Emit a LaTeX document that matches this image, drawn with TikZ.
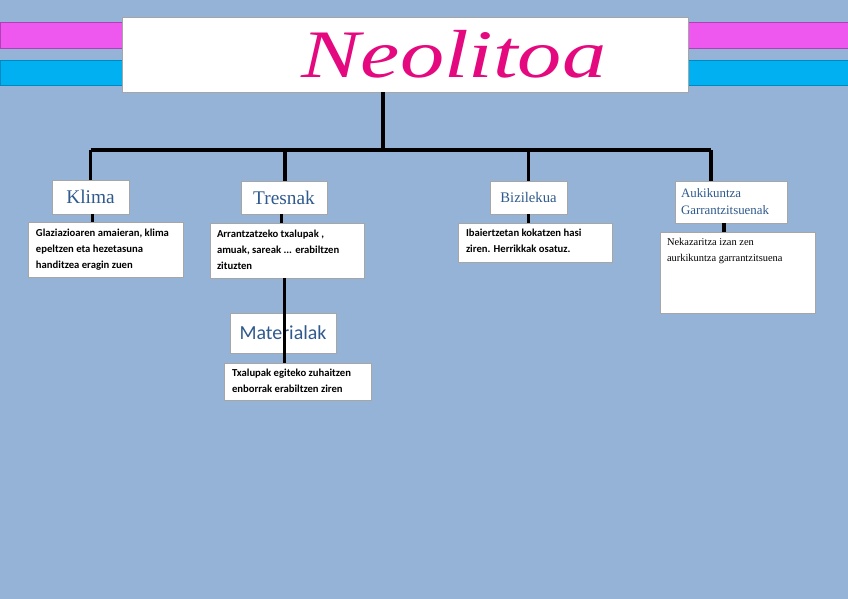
\documentclass[tikz,border=0pt]{standalone}
\usepackage{fontspec}
\setmainfont{Liberation Serif}
\setsansfont{Carlito}
\usepackage{xcolor}
\usetikzlibrary{positioning,calc}
\definecolor{bgblue}{HTML}{95B3D7}
\definecolor{barpink}{HTML}{EE58EE}
\definecolor{barpinkd}{HTML}{B040B8}
\definecolor{barcyan}{HTML}{00B0F0}
\definecolor{barcyand}{HTML}{0088C0}
\definecolor{titlepink}{HTML}{E4097F}
\definecolor{hdblue}{HTML}{2F5A8E}
\definecolor{boxgray}{HTML}{A6A6A6}
\tikzset{
  hdr/.style={draw=boxgray,fill=white,align=center,text=hdblue,inner sep=2pt},
  desc/.style={draw=boxgray,fill=white,inner sep=0pt},
  dtxt/.style={anchor=north west,inner sep=0pt,align=left,font=\sffamily\bfseries\fontsize{9.1}{13.6}\selectfont},
  conn/.style={line width=3pt,black},
}

\begin{document}
\begin{tikzpicture}[x=0.03cm,y=-0.03cm]
\fill[bgblue] (0,0) rectangle (848,599);
\useasboundingbox (0,0) rectangle (848,599);
% side bars
\draw[fill=barpink,draw=barpinkd] (0,22) rectangle (122,48);
\draw[fill=barpink,draw=barpinkd] (688,22) rectangle (848,48);
\draw[fill=barcyan,draw=barcyand] (0,60) rectangle (122,85);
\draw[fill=barcyan,draw=barcyand] (688,60) rectangle (848,85);
% title
\node[draw=boxgray,fill=white,minimum width=16.98cm,minimum height=2.25cm] (title) at (405,54.5) {};
\node[text=titlepink,font=\itshape\fontsize{58}{58}\selectfont,inner sep=0pt] (ttl) at (454,54) {\scalebox{1.3}[1]{Neolitoa}};
% headers
\node[hdr,minimum width=2.31cm,minimum height=1.02cm,font=\fontsize{16.5}{18}\selectfont] (klima) at (90.5,197) {Klima};
\node[hdr,minimum width=2.58cm,minimum height=0.99cm,font=\fontsize{16.5}{18}\selectfont] (tresnak) at (284,197.5) {Tresnak};
\node[hdr,minimum width=2.31cm,minimum height=0.99cm,font=\fontsize{12.5}{14}\selectfont] (bizi) at (528.5,197.5) {Bizilekua};
\node[hdr,minimum width=3.36cm,minimum height=1.26cm,text width=3.0cm,align=left,font=\fontsize{11}{14.5}\selectfont] (aukik) at (731,202) {Aukikuntza\\Garrantzitsuenak};
% descriptions
\node[desc,minimum width=4.65cm,minimum height=1.65cm] (klimaD) at (105.5,249.5) {};
\node[dtxt] (klimaT) at ($(klimaD.north west)+(8,7)$) {Glaziazioaren amaieran, klima\\epeltzen eta hezetasuna\\handitzea eragin zuen};
\node[desc,minimum width=4.62cm,minimum height=1.65cm] (tresnakD) at (287,250.5) {};
\node[dtxt] (tresnakT) at ($(tresnakD.north west)+(7,7)$) {Arrantzatzeko txalupak ,\\amuak, sareak ... erabiltzen\\zituzten};
\node[desc,minimum width=4.62cm,minimum height=1.17cm] (biziD) at (535,242.5) {};
\node[dtxt] (biziT) at ($(biziD.north west)+(8,6)$) {Ibaiertzetan kokatzen hasi\\ziren. Herrikkak osatuz.};
\node[desc,minimum width=4.65cm,minimum height=2.43cm] (aukikD) at (737.5,272.5) {};
\node[dtxt,font=\fontsize{8.9}{14}\selectfont] (aukikT) at ($(aukikD.north west)+(7,6)$) {Nekazaritza izan zen\\aurkikuntza garrantzitsuena};
% materialak
\node[hdr,minimum width=3.18cm,minimum height=1.2cm,font=\sffamily\fontsize{17}{19}\selectfont] (mater) at (283,333) {Materialak};
\node[desc,minimum width=4.41cm,minimum height=1.11cm] (materD) at (297.5,381.5) {};
\node[dtxt] (materT) at ($(materD.north west)+(8,6)$) {Txalupak egiteko zuhaitzen\\enborrak erabiltzen ziren};
% connectors
\coordinate (bus) at (383,150);
\draw[conn] (title.south -| bus) -- (bus);
\draw[conn] (klima.north |- bus) -- ([xshift=-17]aukik.north |- bus);
\draw[conn] (klima.north |- bus) -- (klima.north);
\draw[conn] ([xshift=1]tresnak.north |- bus) -- ([xshift=1]tresnak.north);
\draw[conn] (bizi.north |- bus) -- (bizi.north);
\draw[conn] ([xshift=-17]aukik.north |- bus) -- ([xshift=-17]aukik.north);
\draw[conn] ([xshift=1.5]klima.south) -- ([xshift=1.5]klima.south |- klimaD.north);
\draw[conn] ([xshift=-2]tresnak.south) -- ([xshift=-2]tresnak.south |- tresnakD.north);
\draw[conn] (bizi.south) -- (bizi.south |- biziD.north);
\draw[conn] ([xshift=-6]aukik.south) -- ([xshift=-6]aukik.south |- aukikD.north);
\draw[conn] ([xshift=-2]tresnakD.south) -- ([xshift=-2]tresnakD.south |- materD.north);
\end{tikzpicture}
\end{document}
